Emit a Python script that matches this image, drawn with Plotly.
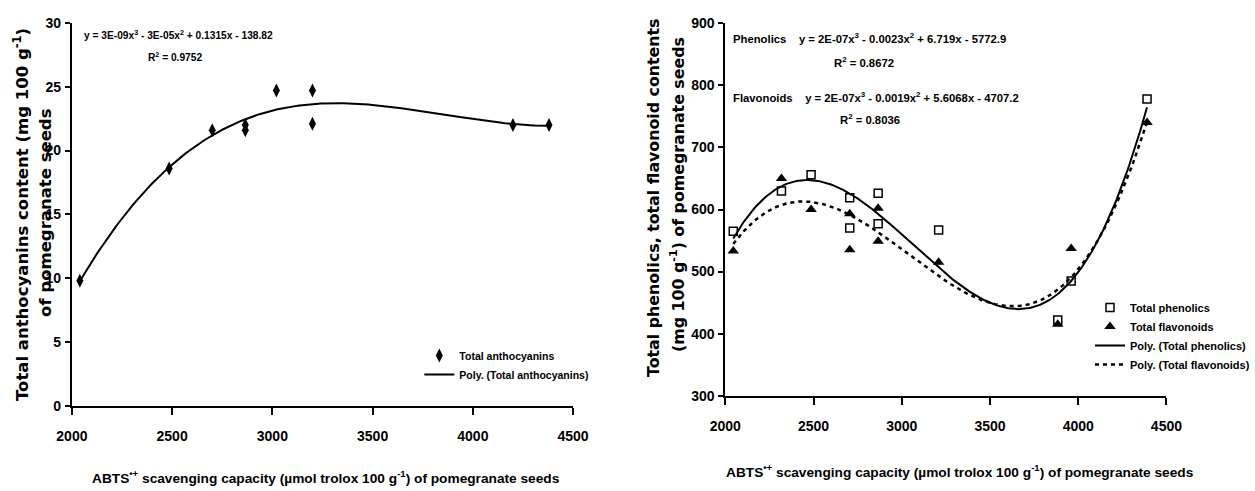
import numpy as np
import plotly.graph_objects as go

# ---------------- data ----------------
# Left panel: total anthocyanins vs ABTS scavenging capacity
abts_antho = [2040, 2485, 2700, 2865, 2865, 3020, 3200, 3200, 4200, 4380]
anthocyanins = [9.8, 18.6, 21.6, 22.0, 21.6, 24.7, 24.7, 22.1, 22.0, 22.0]

# Right panel: total phenolics / flavonoids vs ABTS scavenging capacity
abts_phen = [2045, 2318, 2486, 2705, 2705, 2866, 2866, 3209, 3884, 3960, 4390]
phenolics = [565, 630, 656, 619, 570, 626, 577, 567, 422, 485, 778]
flavonoids = [533, 650, 600, 593, 535, 602, 549, 515, 415, 537, 740]

x_ticks = [2000, 2500, 3000, 3500, 4000, 4500]
y_ticks_left = [0, 5, 10, 15, 20, 25, 30]
y_ticks_right = [300, 400, 500, 600, 700, 800, 900]

GAP = "\u00a0" * 4
eq_antho = "y = 3E-09x<sup>3</sup> - 3E-05x<sup>2</sup> + 0.1315x - 138.82"
r2_antho = "R<sup>2</sup> = 0.9752"
eq_phen = "Phenolics" + GAP + "y = 2E-07x<sup>3</sup> - 0.0023x<sup>2</sup> + 6.719x - 5772.9"
r2_phen = "R<sup>2</sup> = 0.8672"
eq_flav = "Flavonoids" + GAP + "y = 2E-07x<sup>3</sup> - 0.0019x<sup>2</sup> + 5.6068x - 4707.2"
r2_flav = "R<sup>2</sup> = 0.8036"

x_title = "ABTS<sup>\u2022+</sup> scavenging capacity (\u00b5mol trolox 100 g<sup>-1</sup>) of pomegranate seeds"

# ---------------- styling helpers ----------------
W, H = 1255, 491
SANS = "Liberation Sans, Arial, sans-serif"
WIDE = "DejaVu Sans, Liberation Sans, Arial, sans-serif"


def fx(p):
    return p / W


def fy(p):
    return 1 - p / H


def trend(x, y, deg=3, n=300):
    c = np.polyfit(x, y, deg)
    xs = np.linspace(min(x), max(x), n)
    return xs, np.polyval(c, xs)


fig = go.Figure()

# ---------------- left panel ----------------
fig.add_trace(go.Scatter(
    x=abts_antho, y=anthocyanins, mode="markers", name="Total anthocyanins",
    marker=dict(symbol="diamond-tall", size=10, color="black"),
    xaxis="x", yaxis="y", legend="legend"))
tx, ty = trend(abts_antho, anthocyanins)
fig.add_trace(go.Scatter(
    x=tx, y=ty, mode="lines", name="Poly. (Total anthocyanins)",
    line=dict(color="black", width=2), xaxis="x", yaxis="y", legend="legend"))

# ---------------- right panel ----------------
fig.add_trace(go.Scatter(
    x=abts_phen, y=phenolics, mode="markers", name="Total phenolics",
    marker=dict(symbol="square-open", size=8, color="black", line=dict(width=1.5)),
    xaxis="x2", yaxis="y2", legend="legend2"))
fig.add_trace(go.Scatter(
    x=abts_phen, y=flavonoids, mode="markers", name="Total flavonoids",
    marker=dict(symbol="triangle-up", size=10, color="black"),
    xaxis="x2", yaxis="y2", legend="legend2"))
px_, py_ = trend(abts_phen, phenolics)
fig.add_trace(go.Scatter(
    x=px_, y=py_, mode="lines", name="Poly. (Total phenolics)",
    line=dict(color="black", width=2), xaxis="x2", yaxis="y2", legend="legend2"))
fx_, fy_ = trend(abts_phen, flavonoids)
fig.add_trace(go.Scatter(
    x=fx_, y=fy_, mode="lines", name="Poly. (Total flavonoids)",
    line=dict(color="black", width=2.5, dash="4px,4px"), xaxis="x2", yaxis="y2",
    legend="legend2"))

tickfont = dict(family=SANS, size=14, color="black", weight="bold")
axis_common = dict(showgrid=False, zeroline=False, showline=True, linecolor="black",
                   linewidth=2, ticks="outside", tickcolor="black", tickwidth=1.5,
                   tickfont=tickfont, mirror=False, automargin=False)

fig.update_layout(
    width=W, height=H, margin=dict(l=0, r=0, t=0, b=0, pad=0),
    paper_bgcolor="white", plot_bgcolor="white",
    xaxis=dict(domain=[fx(72), fx(574)], range=[2000, 4500], tickvals=x_ticks,
               anchor="y", ticklen=7, ticklabelstandoff=9, **axis_common),
    yaxis=dict(domain=[fy(405.7), fy(23)], range=[0, 30], tickvals=y_ticks_left,
               anchor="x", ticklen=5, ticklabelstandoff=1, **axis_common),
    xaxis2=dict(domain=[fx(726.5), fx(1168.3)], range=[2000, 4500], tickvals=x_ticks,
                anchor="y2", ticklen=7, ticklabelstandoff=9, **axis_common),
    yaxis2=dict(domain=[fy(395.7), fy(23.3)], range=[300, 900], tickvals=y_ticks_right,
                anchor="x2", ticklen=5, ticklabelstandoff=1, **axis_common),
    legend=dict(x=fx(420), y=fy(341), xanchor="left", yanchor="top",
                bgcolor="rgba(0,0,0,0)", tracegroupgap=0,
                font=dict(family=SANS, size=10.5, color="black", weight="bold")),
    legend2=dict(x=fx(1092), y=fy(293), xanchor="left", yanchor="top",
                 bgcolor="rgba(0,0,0,0)", tracegroupgap=0,
                 font=dict(family=SANS, size=11, color="black", weight="bold")),
)

eqfont_l = dict(family=SANS, size=10.2, color="black", weight="bold")
eqfont_r = dict(family=SANS, size=11.3, color="black", weight="bold")
titlefont = dict(family=SANS, size=13.7, color="black", weight="bold")
ytfont_l = dict(family=WIDE, size=16.5, color="black", weight="bold")
ytfont_r = dict(family=WIDE, size=15.8, color="black", weight="bold")

annotations = [
    # equations
    dict(x=fx(81.7), y=fy(35), text=eq_antho, xanchor="left", yanchor="middle", font=eqfont_l),
    dict(x=fx(175), y=fy(57), text=r2_antho, xanchor="center", yanchor="middle", font=eqfont_l),
    dict(x=fx(732), y=fy(38.3), text=eq_phen, xanchor="left", yanchor="middle", font=eqfont_r),
    dict(x=fx(865), y=fy(62.3), text=r2_phen, xanchor="center", yanchor="middle", font=eqfont_r),
    dict(x=fx(732), y=fy(96.7), text=eq_flav, xanchor="left", yanchor="middle", font=eqfont_r),
    dict(x=fx(871), y=fy(119), text=r2_flav, xanchor="center", yanchor="middle", font=eqfont_r),
    # x titles
    dict(x=fx(327), y=fy(477), text=x_title, xanchor="center", yanchor="middle", font=titlefont),
    dict(x=fx(962), y=fy(471), text=x_title, xanchor="center", yanchor="middle", font=titlefont),
    # y titles
    dict(x=fx(21), y=fy(214), text="Total anthocyanins content (mg 100 g<sup>-1</sup>)",
         textangle=-90, xanchor="center", yanchor="middle", font=ytfont_l),
    dict(x=fx(45), y=fy(212), text="of pomegranate seeds",
         textangle=-90, xanchor="center", yanchor="middle", font=ytfont_l),
    dict(x=fx(655), y=fy(198), text="Total phenolics, total flavonoid contents",
         textangle=-90, xanchor="center", yanchor="middle", font=ytfont_r),
    dict(x=fx(678), y=fy(194), text="(mg 100 g<sup>-1</sup>) of pomegranate seeds",
         textangle=-90, xanchor="center", yanchor="middle", font=ytfont_r),
]
for a in annotations:
    a.update(xref="paper", yref="paper", showarrow=False)
fig.update_layout(annotations=annotations)

fig.write_html("out.html", config={"displayModeBar": False},
               post_script="document.body.style.margin='0px';")
